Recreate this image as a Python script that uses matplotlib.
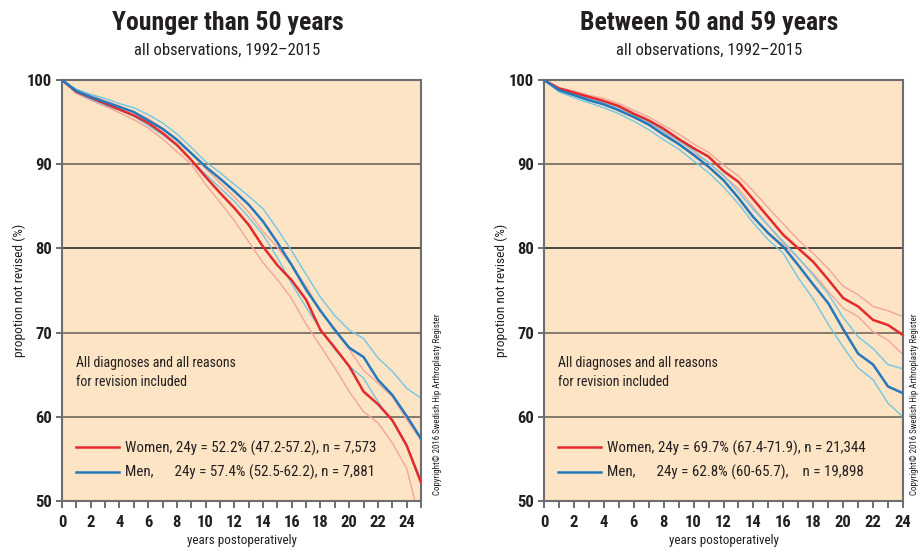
import matplotlib
matplotlib.use("Agg")
import matplotlib.pyplot as plt
from matplotlib.lines import Line2D

plt.rcParams['font.family'] = ['Roboto Condensed', 'DejaVu Sans Condensed', 'Roboto', 'DejaVu Sans']

# ---------------- data ----------------
years_young = [0, 1, 2, 3, 4, 5, 6, 7, 8, 9, 10, 11, 12, 13, 14, 15, 16, 17, 18, 19, 20, 21, 22, 23, 24, 25]
young_women = [100, 98.6, 97.9, 97.2, 96.5, 95.8, 94.9, 93.7, 92.3, 90.5, 88.5, 86.6, 84.8, 82.8, 80.2, 78.0, 76.2, 73.9, 70.3, 68.2, 66.0, 63.0, 61.5, 59.6, 56.6, 52.2]
young_women_lo = [100, 98.4, 97.6, 96.9, 96.1, 95.3, 94.3, 93.0, 91.5, 90.0, 87.6, 85.5, 83.3, 80.8, 78.3, 76.3, 74.0, 71.0, 68.4, 65.8, 63.0, 60.6, 59.3, 56.9, 53.9, 47.2]
young_women_hi = [100, 98.8, 98.2, 97.5, 96.9, 96.2, 95.4, 94.3, 93.0, 91.3, 89.5, 87.8, 86.1, 84.3, 82.0, 80.1, 78.0, 75.5, 72.5, 70.5, 68.0, 65.5, 64.0, 62.4, 59.7, 57.2]
young_men = [100, 98.7, 98.0, 97.4, 96.8, 96.2, 95.2, 94.2, 92.9, 91.3, 89.7, 88.3, 86.8, 85.2, 83.2, 80.7, 78.0, 75.1, 72.6, 70.3, 68.2, 67.1, 64.4, 62.6, 60.1, 57.4]
young_men_lo = [100, 98.5, 97.7, 97.0, 96.4, 95.7, 94.6, 93.5, 92.2, 90.5, 88.8, 87.2, 85.6, 83.7, 81.6, 78.9, 75.8, 73.0, 70.4, 68.0, 66.0, 64.6, 61.8, 59.5, 56.6, 52.5]
young_men_hi = [100, 98.9, 98.3, 97.8, 97.2, 96.7, 95.9, 94.9, 93.6, 92.0, 90.3, 89.0, 87.6, 86.2, 84.7, 82.3, 79.7, 76.9, 74.2, 72.0, 70.3, 69.3, 67.0, 65.4, 63.4, 62.2]

years_mid = [0, 1, 2, 3, 4, 5, 6, 7, 8, 9, 10, 11, 12, 13, 14, 15, 16, 17, 18, 19, 20, 21, 22, 23, 24]
mid_women = [100, 99.0, 98.5, 98.0, 97.5, 96.9, 96.0, 95.2, 94.2, 93.0, 91.9, 90.9, 89.2, 87.9, 85.8, 83.7, 81.6, 80.0, 78.4, 76.3, 74.1, 73.1, 71.5, 70.9, 69.7]
mid_women_lo = [100, 98.9, 98.3, 97.8, 97.2, 96.6, 95.8, 94.8, 93.8, 92.5, 91.3, 90.2, 88.6, 87.1, 84.9, 82.7, 80.6, 78.8, 77.0, 74.9, 72.9, 71.9, 70.1, 69.1, 67.4]
mid_women_hi = [100, 99.1, 98.7, 98.2, 97.8, 97.2, 96.4, 95.6, 94.6, 93.6, 92.4, 91.4, 89.9, 88.6, 86.8, 84.8, 82.9, 81.0, 79.4, 77.6, 75.5, 74.5, 73.1, 72.6, 71.9]
mid_men = [100, 98.8, 98.2, 97.6, 97.1, 96.4, 95.6, 94.7, 93.5, 92.4, 91.1, 89.7, 88.1, 86.0, 83.7, 81.8, 80.2, 78.0, 75.7, 73.5, 70.4, 67.5, 66.2, 63.6, 62.8]
mid_men_lo = [100, 98.6, 97.9, 97.3, 96.7, 96.0, 95.1, 94.1, 92.9, 91.8, 90.4, 89.0, 87.3, 85.3, 83.0, 81.0, 79.4, 76.5, 74.0, 71.0, 68.3, 65.8, 64.4, 61.6, 60.0]
mid_men_hi = [100, 98.9, 98.4, 97.8, 97.3, 96.7, 95.9, 95.0, 93.9, 92.8, 91.6, 90.2, 88.7, 86.7, 84.6, 82.7, 80.8, 78.9, 76.8, 74.6, 71.8, 69.5, 68.1, 66.2, 65.7]

titles = ["Younger than 50 years", "Between 50 and 59 years"]
subtitle = "all observations, 1992\u20132015"
legend_women = ["Women, 24y = 52.2% (47.2-57.2), n = 7,573",
                "Women, 24y = 69.7% (67.4-71.9), n = 21,344"]
legend_men = ["Men,      24y = 57.4% (52.5-62.2), n = 7,881",
              "Men,      24y = 62.8% (60-65.7),    n = 19,898"]
note = "All diagnoses and all reasons\nfor revision included"
copyright_txt = "Copyright\u00a9 2016 Swedish Hip Arthroplasty Register"
ylabel = "propotion not revised (%)"
xlabel = "years postoperatively"
yticks = [50, 60, 70, 80, 90, 100]

# ---------------- style ----------------
W, H = 922, 551
BG = "#FCE4C4"
RED = "#E52A2E"
BLUE = "#2479BD"
LBLUE = "#72C6E5"
PINK = "#F2A59B"
INK = "#231f20"

fig = plt.figure(figsize=(W / 100, H / 100), dpi=100)
fig.patch.set_facecolor("white")


def fx(px):
    return px / W


def fy(py):
    return 1 - py / H


panels = [
    dict(left=62, right=421, xmax=25, x=years_young, cright=437,
         w=young_women, wlo=young_women_lo, whi=young_women_hi,
         m=young_men, mlo=young_men_lo, mhi=young_men_hi),
    dict(left=544, right=903, xmax=24, x=years_mid, cright=914,
         w=mid_women, wlo=mid_women_lo, whi=mid_women_hi,
         m=mid_men, mlo=mid_men_lo, mhi=mid_men_hi),
]
top, bottom = 80, 501

for i, p in enumerate(panels):
    ax = fig.add_axes([fx(p['left']), fy(bottom), fx(p['right'] - p['left']), (bottom - top) / H])
    ax.set_facecolor(BG)
    ax.set_xlim(0, p['xmax'])
    ax.set_ylim(50, 100)
    for g in [60, 70, 80, 90]:
        ax.axhline(g, color="#3c3a36" if g == 80 else "#7a7264", lw=1.3, zorder=1)
    ax.plot(p['x'], p['whi'], color=PINK, lw=1.0, zorder=2)
    ax.plot(p['x'], p['wlo'], color=PINK, lw=1.0, zorder=2)
    ax.plot(p['x'], p['mhi'], color=LBLUE, lw=1.0, zorder=2)
    ax.plot(p['x'], p['mlo'], color=LBLUE, lw=1.0, zorder=2)
    ax.plot(p['x'], p['w'], color=RED, lw=1.8, zorder=3)
    ax.plot(p['x'], p['m'], color=BLUE, lw=1.8, zorder=3)

    ax.set_xticks(list(range(0, 25, 2)))
    ax.set_xticks(list(range(0, p['xmax'] + 1)), minor=True)
    ax.set_yticks(yticks)
    ax.tick_params(axis='both', which='both', direction='out', color="#555555", width=1.2)
    ax.tick_params(axis='x', which='both', length=5, labelsize=12, pad=5)
    ax.tick_params(axis='y', length=4, labelsize=12, pad=3)
    for lab in ax.get_xticklabels() + ax.get_yticklabels():
        lab.set_fontweight('bold')
        lab.set_color(INK)
    for s in ax.spines.values():
        s.set_color("#6e6e6e")
        s.set_linewidth(1.5)
    ax.set_ylabel(ylabel, fontsize=9.6, color=INK, labelpad=1)
    ax.set_xlabel(xlabel, fontsize=9.4, color=INK, labelpad=3)

    ax.text(0.04, 0.305, note, transform=ax.transAxes, fontsize=10, color=INK,
            va='center', ha='left', linespacing=1.45)

    handles = [Line2D([], [], color=RED, lw=1.8), Line2D([], [], color=BLUE, lw=1.8)]
    leg = ax.legend(handles, [legend_women[i], legend_men[i]], loc='lower left',
                    bbox_to_anchor=(0.0, 0.017), frameon=False, fontsize=10.8,
                    handlelength=2.9, handletextpad=0.4, labelspacing=0.62)
    for t in leg.get_texts():
        t.set_color(INK)

    cx = (p['left'] + p['right']) / 2 - 14
    fig.text(fx(cx), fy(23), titles[i], fontsize=18.5, fontweight='bold',
             ha='center', va='center', color=INK)
    fig.text(fx(cx), fy(50), subtitle, fontsize=12, ha='center', va='center', color=INK)
    fig.text(fx(p['cright']), fy(404), copyright_txt, rotation=90, fontsize=6.4,
             ha='center', va='center', color=INK)

fig.savefig("out.png", dpi=100, facecolor="white")
